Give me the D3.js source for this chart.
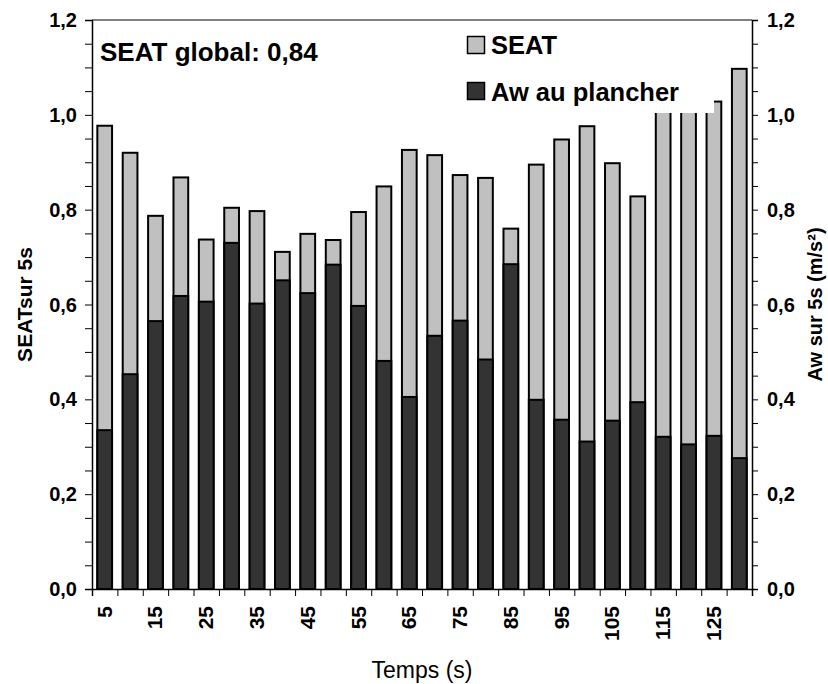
<!DOCTYPE html>
<html>
<head>
<meta charset="utf-8">
<script src="https://cdn.jsdelivr.net/npm/d3@7"></script>
<style>
  body { margin: 0; background: #fff; }
  svg { display: block; }
  text { font-family: "Liberation Sans", Arial, sans-serif; }
</style>
</head>
<body>
<svg id="chart" width="828" height="684"></svg>
<script>
// ---- data ----
const times = [5, 10, 15, 20, 25, 30, 35, 40, 45, 50, 55, 60, 65, 70, 75, 80, 85, 90, 95, 100, 105, 110, 115, 120, 125, 130];
const seatValues = [0.977, 0.920, 0.787, 0.868, 0.737, 0.804, 0.797, 0.711, 0.749, 0.736, 0.795, 0.849, 0.926, 0.915, 0.873, 0.867, 0.760, 0.895, 0.948, 0.976, 0.898, 0.828, 1.06, 1.08, 1.028, 1.097];
const awValues = [0.335, 0.453, 0.565, 0.618, 0.606, 0.730, 0.602, 0.651, 0.624, 0.684, 0.597, 0.481, 0.405, 0.534, 0.566, 0.484, 0.685, 0.399, 0.357, 0.311, 0.355, 0.394, 0.321, 0.305, 0.323, 0.276];
const labelledTimes = [5, 15, 25, 35, 45, 55, 65, 75, 85, 95, 105, 115, 125];
const yTicks = [0, 0.2, 0.4, 0.6, 0.8, 1.0, 1.2];
const seriesNames = ["SEAT", "Aw au plancher"];
const globalText = "SEAT global: 0,84";

// ---- layout ----
const svg = d3.select("#chart");
const L = 92, R = 752, T = 20, B = 589;
const fmt = d => d3.format(".1f")(d).replace(".", ",");

const x = d3.scaleBand().domain(times).range([L, R]).paddingInner(0.42).paddingOuter(0.21);
const xEdge = d3.scaleLinear().domain([0, times.length]).range([L, R]);
const y = d3.scaleLinear().domain([0, 1.2]).range([B, T]);
const colors = { seat: "#c0c0c0", aw: "#333333" };

// bars
const g = svg.append("g");
g.selectAll("rect.seat").data(times).join("rect")
  .attr("class", "seat")
  .attr("x", d => x(d)).attr("width", x.bandwidth())
  .attr("y", (d, i) => y(seatValues[i])).attr("height", (d, i) => B - y(seatValues[i]))
  .attr("fill", colors.seat).attr("stroke", "#000").attr("stroke-width", 2);
g.selectAll("rect.aw").data(times).join("rect")
  .attr("class", "aw")
  .attr("x", d => x(d)).attr("width", x.bandwidth())
  .attr("y", (d, i) => y(awValues[i])).attr("height", (d, i) => B - y(awValues[i]))
  .attr("fill", colors.aw).attr("stroke", "#000").attr("stroke-width", 2);

// legend box (white background)
svg.append("rect").attr("x", 456).attr("y", 22).attr("width", 258).attr("height", 91).attr("fill", "#fff");

// top border
svg.append("line").attr("x1", L).attr("x2", R).attr("y1", T).attr("y2", T)
  .attr("stroke", "#808080").attr("stroke-width", 2);

// left axis
const minor = d3.range(0, 1.2001, 0.05);
const leftAxis = svg.append("g").attr("transform", `translate(${L},0)`)
  .call(d3.axisLeft(y).tickValues(minor).tickSize(7).tickFormat(""));
leftAxis.select(".domain").attr("stroke", "#000").attr("stroke-width", 1.5);
leftAxis.selectAll(".tick line").attr("stroke", "#000").attr("stroke-width", 1);
svg.append("g").selectAll("text").data(yTicks).join("text")
  .attr("x", 77).attr("y", d => y(d) + 7)
  .attr("text-anchor", "end").attr("font-weight", "bold").attr("font-size", 20)
  .text(fmt);

// right axis
const rightAxis = svg.append("g").attr("transform", `translate(${R},0)`)
  .call(d3.axisRight(y).tickValues(minor).tickSize(6).tickFormat(""));
rightAxis.select(".domain").attr("stroke", "#000").attr("stroke-width", 1.5);
rightAxis.selectAll(".tick line").attr("stroke", "#000").attr("stroke-width", 1);
svg.append("g").selectAll("text").data(yTicks).join("text")
  .attr("x", 767).attr("y", d => y(d) + 7)
  .attr("text-anchor", "start").attr("font-weight", "bold").attr("font-size", 20)
  .text(fmt);

// bottom axis (ticks at category boundaries)
const bottomAxis = svg.append("g").attr("transform", `translate(0,${B})`)
  .call(d3.axisBottom(xEdge).tickValues(d3.range(times.length + 1)).tickSize(7).tickFormat(""));
bottomAxis.select(".domain").attr("stroke", "#000").attr("stroke-width", 1.5);
bottomAxis.selectAll(".tick line").attr("stroke", "#000").attr("stroke-width", 1);
svg.append("g").selectAll("text").data(labelledTimes).join("text")
  .attr("transform", d => `translate(${x(d) + x.bandwidth() / 2 + 7},606) rotate(-90)`)
  .attr("text-anchor", "end").attr("font-weight", "bold").attr("font-size", 21)
  .text(d => d);

// axis titles
svg.append("text").attr("transform", `translate(32,${(T + B) / 2}) rotate(-90)`)
  .attr("text-anchor", "middle").attr("font-weight", "bold").attr("font-size", 21)
  .text("SEATsur 5s");
svg.append("text").attr("transform", `translate(822,${(T + B) / 2}) rotate(-90)`)
  .attr("text-anchor", "middle").attr("font-weight", "bold").attr("font-size", 20)
  .text("Aw sur 5s (m/s²)");
svg.append("text").attr("x", (L + R) / 2).attr("y", 678)
  .attr("text-anchor", "middle").attr("font-size", 23)
  .text("Temps (s)");

// annotation
svg.append("text").attr("x", 100).attr("y", 61)
  .attr("font-weight", "bold").attr("font-size", 26).text(globalText);

// legend
const leg = svg.append("g");
[colors.seat, colors.aw].forEach((c, i) => {
  leg.append("rect").attr("x", 467.5).attr("y", 36.5 + i * 46).attr("width", 17).attr("height", 17)
    .attr("fill", c).attr("stroke", "#000").attr("stroke-width", 1.5);
  leg.append("text").attr("x", 491).attr("y", 54 + i * 47)
    .attr("font-weight", "bold").attr("font-size", 25.5).text(seriesNames[i]);
});
</script>
</body>
</html>
